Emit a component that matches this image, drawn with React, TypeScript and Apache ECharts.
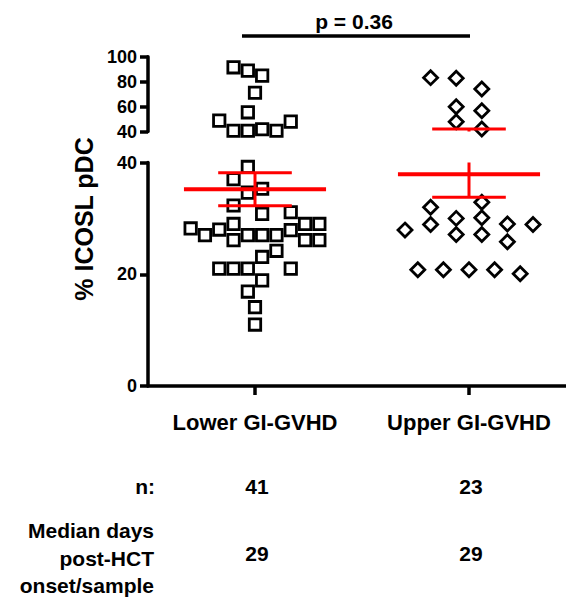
import React, { useEffect, useRef } from "react";
import * as echarts from "echarts";

// ---------- data ----------
const groups = ["Lower GI-GVHD", "Upper GI-GVHD"];

// Lower GI-GVHD: values (% ICOSL pDC) and beeswarm column index (half steps)
const lowerGiValues = [
  91.5, 88.8, 84.8, 71.1, 55.4, 48.7, 47.9, 40.6, 40.6, 41.8, 40.6,
  39.2, 37.0, 35.3, 34.6, 32.3, 30.8, 31.1, 29.0, 29.0, 29.0, 27.9,
  28.2, 27.0, 28.0, 26.1, 27.0, 27.0, 27.0, 26.1, 26.1, 24.2, 23.1,
  21.0, 21.0, 21.0, 21.0, 18.9, 16.9, 14.1, 11.0,
];
const lowerGiColumns = [
  -1.5, -0.5, 0.5, 0, -0.5, -2.5, 2.5, -1.5, -0.5, 0.5, 1.5,
  -0.5, -1.5, 0.5, -0.5, -1.5, 0.5, 2.5, -1.5, 3.5, 4.5, 2.5,
  -4.5, -3.5, -2.5, -1.5, -0.5, 0.5, 1.5, 3.5, 4.5, 1.5, 0.5,
  -2.5, -1.5, -0.5, 2.5, 0.5, -0.5, 0, 0,
];

// Upper GI-GVHD
const upperGiValues = [
  83.2, 82.7, 74.1, 59.9, 56.7, 47.9, 42.0,
  32.9, 32.0, 28.9, 27.9, 30.0, 27.1, 30.1, 27.1, 29.0, 25.8, 28.9,
  20.8, 20.8, 20.8, 20.8, 20.1,
];
const upperGiColumns = [
  -3, -1, 1, -1, 1, -1, 1,
  1, -3, -3, -5, -1, -1, 1, 1, 3, 3, 5,
  -4, -2, 0, 2, 4,
];

const groupMeans = [35.2, 37.9];
const groupSems = [2.95, 4.1];
const nCounts = [41, 23];
const medianDays = [29, 29];
const pValueLabel = "p = 0.36";
const breakValue = 40;
const lowerRange = [0, 40];
const upperRange = [40, 100];
const tickStep = 20;
const tickGroups = [1, 2];

// ---------- layout ----------
const W = 566;
const H = 601;
const LEFT = 148;
const UNIT_PX = 214;
const X_MIN = 0.5;
const X_MAX = X_MIN + (W - LEFT) / UNIT_PX;
const SQ_STEP = 14.3 / UNIT_PX;
const DI_STEP = 12.8 / UNIT_PX;
const MEAN_HALF = 0.332;
const SEM_HALF = 0.172;
const FONT = '"Liberation Sans", Arial, Helvetica, sans-serif';
const RED = "#ff0000";

function buildPoints(values: number[], cols: number[], center: number, step: number, upper: boolean) {
  const out: number[][] = [];
  values.forEach((v, i) => {
    const inUpper = v > breakValue;
    if (inUpper === upper) out.push([center + cols[i] * step, v]);
  });
  return out;
}

const squareStyle = { color: "rgba(0,0,0,0)", borderColor: "#000", borderWidth: 2.8, opacity: 1 };
const diamondStyle = { color: "rgba(0,0,0,0)", borderColor: "#000", borderWidth: 2.8, opacity: 1 };

function errorRender(params: any, api: any) {
  const x = api.value(0);
  const m = api.value(1);
  const s = api.value(2);
  const c = (dx: number, v: number) => api.coord([x + dx, v]);
  const mL = c(-MEAN_HALF, m), mR = c(MEAN_HALF, m);
  const tL = c(-SEM_HALF, m + s), tR = c(SEM_HALF, m + s);
  const bL = c(-SEM_HALF, m - s), bR = c(SEM_HALF, m - s);
  const vT = c(0, m + s), vB = c(0, m - s);
  const ln = (a: number[], b: number[], w: number) => ({
    type: "line",
    shape: { x1: a[0], y1: a[1], x2: b[0], y2: b[1] },
    style: { stroke: RED, lineWidth: w },
  });
  return {
    type: "group",
    children: [ln(vT, vB, 3), ln(tL, tR, 3), ln(bL, bR, 3), ln(mL, mR, 4)],
  };
}

function tableRender(params: any, api: any) {
  const p = api.coord([api.value(0), 0]);
  const txt = (t: string, y: number) => ({
    type: "text",
    style: {
      text: t, x: p[0] + 2, y,
      fill: "#000", fontSize: 21, fontWeight: "bold", fontFamily: FONT,
      align: "center", verticalAlign: "middle",
      textAlign: "center", textVerticalAlign: "middle",
    },
  });
  return { type: "group", children: [txt(String(api.value(2)), p[1] + 100), txt(String(api.value(3)), p[1] + 167)] };
}

const axisLineStyle = { color: "#000", width: 3.5 };
const yLabel = { color: "#000", fontSize: 18, fontWeight: "bold", fontFamily: FONT, margin: 11 };

export default function App() {
  const ref = useRef<HTMLDivElement>(null);
  useEffect(() => {
    if (!ref.current) return;
    const chart = echarts.init(ref.current, null, { renderer: "svg" });
    const option: any = {
      animation: false,
      backgroundColor: "#fff",
      grid: [
        { left: LEFT, right: 0, top: 56.7, height: 74.8, outerBoundsMode: "none" },
        { left: LEFT, right: 0, top: 162.5, height: 223.5, outerBoundsMode: "none" },
      ],
      xAxis: [
        { type: "value", gridIndex: 0, min: X_MIN, max: X_MAX, show: false },
        {
          type: "value", gridIndex: 1, min: X_MIN, max: X_MAX,
          axisLine: { show: true, lineStyle: axisLineStyle },
          axisTick: { show: true, length: 9, customValues: tickGroups, lineStyle: { color: "#000", width: 3.5 } },
          axisLabel: {
            show: true, customValues: tickGroups,
            formatter: (v: number) => groups[Math.round(v) - 1] || "",
            color: "#000", fontSize: 22, fontWeight: "bold", fontFamily: FONT, margin: 25,
          },
          splitLine: { show: false },
        },
      ],
      yAxis: [
        {
          type: "value", gridIndex: 0, min: upperRange[0], max: upperRange[1], interval: tickStep,
          axisLine: { show: true, onZero: false, lineStyle: axisLineStyle },
          axisTick: { show: true, length: 8, lineStyle: { color: "#000", width: 3.5 } },
          axisLabel: yLabel,
          splitLine: { show: false },
        },
        {
          type: "value", gridIndex: 1, min: lowerRange[0], max: lowerRange[1], interval: tickStep,
          axisLine: { show: true, onZero: false, lineStyle: axisLineStyle },
          axisTick: { show: true, length: 8, lineStyle: { color: "#000", width: 3.5 } },
          axisLabel: yLabel,
          splitLine: { show: false },
        },
      ],
      series: [
        {
          type: "scatter", xAxisIndex: 0, yAxisIndex: 0, symbol: "rect", symbolSize: 11.4,
          data: buildPoints(lowerGiValues, lowerGiColumns, 1, SQ_STEP, true),
          itemStyle: squareStyle, clip: false, silent: true, z: 2,
        },
        {
          type: "scatter", xAxisIndex: 1, yAxisIndex: 1, symbol: "rect", symbolSize: 11.4,
          data: buildPoints(lowerGiValues, lowerGiColumns, 1, SQ_STEP, false),
          itemStyle: squareStyle, clip: false, silent: true, z: 2,
        },
        {
          type: "scatter", xAxisIndex: 0, yAxisIndex: 0, symbol: "diamond", symbolSize: 14,
          data: buildPoints(upperGiValues, upperGiColumns, 2, DI_STEP, true),
          itemStyle: diamondStyle, clip: false, silent: true, z: 2,
        },
        {
          type: "scatter", xAxisIndex: 1, yAxisIndex: 1, symbol: "diamond", symbolSize: 14,
          data: buildPoints(upperGiValues, upperGiColumns, 2, DI_STEP, false),
          itemStyle: diamondStyle, clip: false, silent: true, z: 2,
        },
        {
          type: "custom", xAxisIndex: 0, yAxisIndex: 0, clip: true, silent: true, z: 5,
          data: groupMeans.map((m, i) => [i + 1, m, groupSems[i]]),
          encode: { x: 0, y: 1 },
          renderItem: errorRender,
        },
        {
          type: "custom", xAxisIndex: 1, yAxisIndex: 1, clip: true, silent: true, z: 5,
          data: groupMeans.map((m, i) => [i + 1, m, groupSems[i]]),
          encode: { x: 0, y: 1 },
          renderItem: errorRender,
        },
        {
          type: "custom", xAxisIndex: 1, yAxisIndex: 1, clip: false, silent: true, z: 5,
          data: groups.map((g, i) => [i + 1, 0, nCounts[i], medianDays[i]]),
          encode: { x: 0, y: 1 },
          renderItem: tableRender,
        },
      ],
      graphic: [
        {
          type: "text", x: 84, y: 219, rotation: Math.PI / 2, silent: true,
          style: {
            text: "% ICOSL pDC", fill: "#000", fontSize: 25, fontWeight: "bold", fontFamily: FONT,
            align: "center", verticalAlign: "middle", textAlign: "center", textVerticalAlign: "middle",
          },
        },
        {
          type: "line", silent: true,
          shape: { x1: 242, y1: 36, x2: 470, y2: 36 },
          style: { stroke: "#000", lineWidth: 3.5 },
        },
        {
          type: "text", x: 354, y: 21, silent: true,
          style: {
            text: pValueLabel, fill: "#000", fontSize: 21, fontWeight: "bold", fontFamily: FONT,
            align: "center", verticalAlign: "middle", textAlign: "center", textVerticalAlign: "middle",
          },
        },
        {
          type: "text", x: 155, y: 486, silent: true,
          style: {
            text: "n:", fill: "#000", fontSize: 21, fontWeight: "bold", fontFamily: FONT,
            align: "right", verticalAlign: "middle", textAlign: "right", textVerticalAlign: "middle",
          },
        },
        {
          type: "text", x: 154, y: 558, silent: true,
          style: {
            text: "Median days\npost-HCT\nonset/sample", fill: "#000", fontSize: 21, fontWeight: "bold",
            fontFamily: FONT, lineHeight: 27.5,
            align: "right", verticalAlign: "middle", textAlign: "right", textVerticalAlign: "middle",
          },
        },
      ],
    };
    chart.setOption(option);
    return () => chart.dispose();
  }, []);
  return (
    <div
      ref={ref}
      style={{ position: "fixed", left: 0, top: 0, width: W, height: H, background: "#fff" }}
    />
  );
}
